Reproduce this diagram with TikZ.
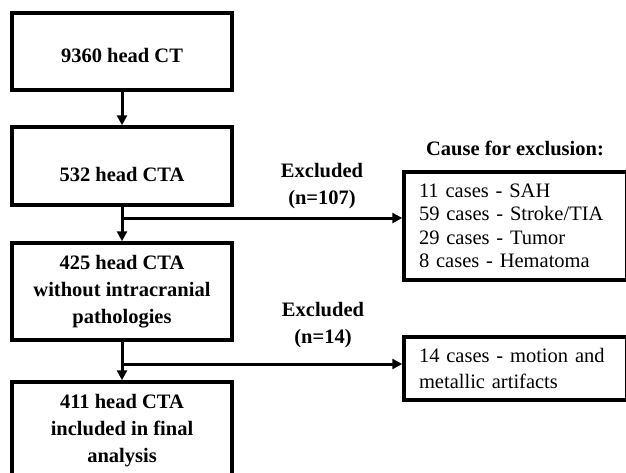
\documentclass[tikz,border=0pt]{standalone}
\usepackage{fontspec}
\setmainfont{Liberation Serif}
\usetikzlibrary{arrows.meta}
\begin{document}
\begin{tikzpicture}[x=1pt,y=1pt,
  mainbox/.style={draw=black,line width=3.5pt,minimum width=220pt,inner sep=0pt,align=center,
    font=\fontsize{20.5}{27}\selectfont\bfseries},
  sidebox/.style={draw=black,line width=3.5pt,minimum width=223pt,inner xsep=15pt,inner ysep=0pt,
    align=left,text width=193pt,font=\fontsize{20.5}{23.5}\selectfont},
  lbl/.style={align=center,inner sep=0pt,font=\fontsize{20.5}{27}\selectfont\bfseries},
  conn/.style={line width=3pt,-{Triangle[length=10pt,width=10pt]}},
  seg/.style={line width=3pt}]
\useasboundingbox (0,0) rectangle (626,-472);
\clip (0,0) rectangle (626,-472);
\fill[white] (0,0) rectangle (626,-472);

\node[mainbox,minimum height=77pt,text height=21pt,text depth=0pt] (b1) at (122,-51.5) {9360 head CT};
\node[mainbox,minimum height=78pt,text height=30pt,text depth=0pt] (b2) at (122,-166) {532 head CTA};
\node[mainbox,minimum height=97pt] (b3) at (122,-291.5) {425 head CTA\\without intracranial\\pathologies};
\node[mainbox,minimum height=98pt] (b4) at (122,-431) {411 head CTA\\included in final\\analysis};

\node[sidebox,minimum height=108pt] (r1) at (515.5,-226) {11 cases - SAH\\59 cases - Stroke/TIA\\29 cases - Tumor\\8 cases - Hematoma};
\node[sidebox,minimum height=63pt,font=\fontsize{20.5}{26}\selectfont] (r2) at (515.5,-368.5) {14 cases - motion and\\metallic artifacts};

\node[lbl] (cause) at (515,-148) {Cause for exclusion:};
\node[lbl] (ex1) at (322,-186.5) {Excluded\\(n=107)};
\node[lbl] (ex2) at (323,-325) {Excluded\\(n=14)};

\coordinate (j1) at (122,-218);
\coordinate (j2) at (122,-364);

\draw[conn] (b1) -- (b2);
\draw[conn] (b2) -- (b3);
\draw[conn] (j1) -- (r1.west |- j1);
\draw[conn] (b3) -- (b4);
\draw[conn] (j2) -- (r2.west |- j2);
\end{tikzpicture}
\end{document}
